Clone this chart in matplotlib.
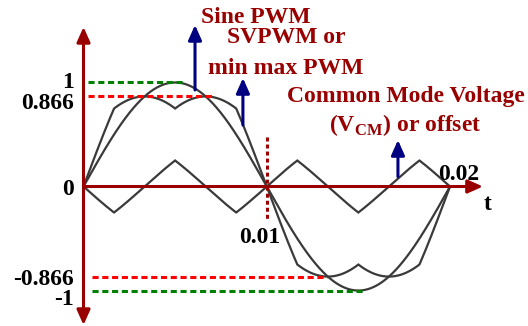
import numpy as np
import matplotlib
matplotlib.use("Agg")
import matplotlib.pyplot as plt

plt.rcParams['font.family'] = ['Liberation Serif', 'DejaVu Serif']
plt.rcParams['font.weight'] = 'bold'
plt.rcParams['mathtext.fontset'] = 'custom'
plt.rcParams['mathtext.rm'] = 'Liberation Serif:bold'
plt.rcParams['mathtext.bf'] = 'Liberation Serif:bold'

# ---- data ----
amplitude = 1.0
period = 0.02
y_tick_values = [1, 0.866, 0, -0.866, -1]
y_tick_labels = ["1", "0.866", "0", "-0.866", "-1"]
x_tick_values = [0.01, 0.02]
x_tick_labels = ["0.01", "0.02"]
guide_levels = [1, 0.866, -0.866, -1]
guide_ends = [0.00543, 0.00701, 0.01329, 0.01525]
guide_colors = ["#008000", "#ff0000", "#ff0000", "#008000"]
annot_texts = ["Sine PWM", "SVPWM or", "min max PWM",
               "Common Mode Voltage", r"(V$_{\mathrm{CM}}$) or offset"]

DARKRED = "#990000"
NAVY = "#000080"
CURVE = "#3a3a3a"

fig = plt.figure(figsize=(5.28, 3.26), dpi=100)
ax = fig.add_axes([0, 0, 1, 1])
ax.set_xlim(-0.004557, 0.024257)
ax.set_ylim(-1.341, 1.793)
ax.axis('off')

t = np.linspace(0, period, 2001)
theta = 2 * np.pi * t / period
pa = amplitude * np.sin(theta)
pb = amplitude * np.sin(theta - 2 * np.pi / 3)
pc = amplitude * np.sin(theta + 2 * np.pi / 3)
cmv = (np.maximum(np.maximum(pa, pb), pc) + np.minimum(np.minimum(pa, pb), pc)) / 2
svpwm = pa - cmv

for curve in (pa, svpwm, cmv):
    ax.plot(t, curve, color=CURVE, lw=1.6, zorder=3, solid_joinstyle='miter')

# guide dashed lines
for lvl, end, col in zip(guide_levels, guide_ends, guide_colors):
    start = 0.00025 if lvl > 0 else 0.00046
    ax.plot([start, end], [lvl, lvl], color=col, lw=2.2,
            linestyle=(0, (2.0, 1.2)), zorder=4)

# vertical dotted line at 0.01
ax.plot([0.01, 0.01], [0.476, -0.322], color=DARKRED, lw=2.2,
        linestyle=(0, (1.3, 1.0)), zorder=4)

# axes arrows
ax.annotate('', xy=(0, 1.534), xytext=(0, -1.332),
            arrowprops=dict(arrowstyle='<|-|>,head_length=0.9,head_width=0.4',
                            color=DARKRED, lw=2.2, mutation_scale=10,
                            shrinkA=0, shrinkB=0), zorder=5)
ax.annotate('', xy=(0.0218, 0), xytext=(0, 0),
            arrowprops=dict(arrowstyle='-|>,head_length=0.9,head_width=0.4',
                            color=DARKRED, lw=2.2, mutation_scale=10,
                            shrinkA=0, shrinkB=0), zorder=5)

# navy arrows
for x, y0, y1 in [(0.006085, 0.928, 1.553), (0.0087, 0.591, 1.043), (0.01716, 0.095, 0.447)]:
    ax.annotate('', xy=(x, y1), xytext=(x, y0),
                arrowprops=dict(arrowstyle='-|>,head_length=0.9,head_width=0.4',
                                color=NAVY, lw=2.2, mutation_scale=10,
                                shrinkA=0, shrinkB=0), zorder=6)

FS = 17
# tick labels
ytick_pos = {1: 1.025, 0.866: 0.82, 0: 0.0, -0.866: -0.873, -1: -1.065}
for v, lab in zip(y_tick_values, y_tick_labels):
    ax.text(-0.0005, ytick_pos[v], lab, ha='right', va='center_baseline',
            fontsize=FS, fontweight='bold', color='black')
ax.text(0.0096, -0.47, x_tick_labels[0], ha='center', va='center_baseline',
        fontsize=FS, fontweight='bold', color='black')
ax.text(0.0205, 0.14, x_tick_labels[1], ha='center', va='center_baseline',
        fontsize=FS, fontweight='bold', color='black')
ax.text(0.02207, -0.15, "t", ha='center', va='center_baseline',
        fontsize=FS, fontweight='bold', color='black')

# annotation texts
positions = [(0.00941, 1.62), (0.01105, 1.428), (0.01105, 1.139),
             (0.0176, 0.861), (0.01754, 0.591)]
for (x, y), s in zip(positions, annot_texts):
    ax.text(x, y, s, ha='center', va='center', fontsize=FS,
            fontweight='bold', color=DARKRED, zorder=7)

fig.savefig("out.png", dpi=100)
